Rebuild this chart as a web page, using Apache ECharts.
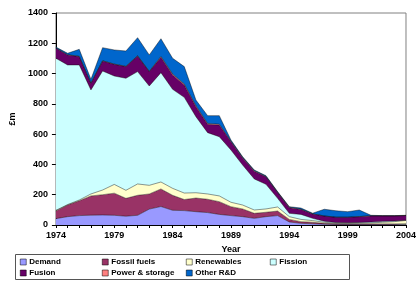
<!DOCTYPE html>
<html>
<head>
<meta charset="utf-8">
<script src="https://cdn.jsdelivr.net/npm/echarts@6/dist/echarts.min.js"></script>
<style>
    html, body { margin: 0; padding: 0; background: #fff; }
    #rd_chart { width: 419px; height: 290px; }
</style>
</head>
<body>
<div id="rd_chart"></div>
<script>
// UK energy R&D spend, £m
const years = [];
for (let y = 1974; y <= 2004; y++) years.push(String(y));

const demand       = [42, 55, 62, 65, 66, 64, 58, 64, 105, 122, 97, 95, 88, 82, 70, 62, 55, 44, 55, 62, 20, 11, 8, 5, 4, 4, 4, 4, 4, 4, 4];
const fossilFuels  = [51, 77, 98, 127, 134, 146, 118, 132, 100, 116, 99, 73, 90, 88, 84, 59, 51, 33, 29, 30, 17, 11, 10, 6, 4, 3, 3, 3, 3, 3, 4];
const renewables   = [4, 3, 5, 13, 31, 58, 53, 75, 57, 46, 46, 43, 35, 35, 38, 29, 26, 22, 22, 27, 18, 15, 11, 7, 4, 4, 5, 7, 11, 15, 22];
const fission      = [1004, 922, 892, 687, 786, 716, 740, 742, 656, 722, 654, 632, 502, 405, 391, 345, 264, 205, 163, 57, 22, 33, 15, 7, 4, 4, 5, 6, 6, 5, 2];
const fusion       = [66, 66, 55, 44, 66, 77, 77, 103, 95, 101, 95, 82, 66, 55, 77, 55, 47, 51, 49, 38, 37, 33, 29, 34, 35, 36, 38, 40, 36, 33, 30];
const powerStorage = [2, 2, 2, 2, 2, 2, 2, 2, 2, 6, 6, 6, 6, 6, 6, 3, 3, 3, 3, 3, 3, 1, 1, 1, 1, 1, 1, 1, 1, 1, 1];
const otherRD      = [6, 9, 46, 24, 86, 93, 101, 119, 108, 117, 104, 115, 38, 51, 56, 8, 5, 5, 5, 3, 4, 8, 4, 44, 42, 36, 43, 3, 1, 1, 1];

const seriesNames  = ['Demand', 'Fossil fuels', 'Renewables', 'Fission', 'Fusion', 'Power & storage', 'Other R&D'];
const seriesData   = [demand, fossilFuels, renewables, fission, fusion, powerStorage, otherRD];
const seriesColors = ['#9999FF', '#993366', '#FFFFCC', '#CCFFFF', '#660066', '#FF8080', '#0066CC'];

const FONT = 'Liberation Sans, Arial, sans-serif';

/**
 * Build one legend column (Excel lays the legend out in fixed columns)
 */
function legendColumn(names, left) {
    return {
        data: names,
        orient: 'vertical',
        left: left,
        top: 258,
        padding: 0,
        itemGap: 3,
        itemWidth: 6,
        itemHeight: 6,
        icon: 'rect',
        selectedMode: false,
        itemStyle: { borderColor: '#000', borderWidth: 0.5 },
        textStyle: { fontFamily: FONT, fontSize: 8, fontWeight: 'bold', color: '#000', lineHeight: 8, padding: [0, 0, 0, -2] }
    };
}

function initChart(dom) {
    let chart = echarts.init(dom);
    let option;

    option = {
        animation: false,
        backgroundColor: '#fff',
        grid: {
            left: 42, right: 7, top: 13, bottom: 65,
            show: true, borderColor: '#808080', borderWidth: 1
        },
        legend: [
            legendColumn(['Demand', 'Fusion'], 20),
            legendColumn(['Fossil fuels', 'Power & storage'], 102),
            legendColumn(['Renewables', 'Other R&D'], 186),
            legendColumn(['Fission'], 270)
        ],
        graphic: [{
            type: 'rect',
            shape: { x: 15.5, y: 254.5, width: 334, height: 25 },
            style: { fill: 'none', stroke: '#555', lineWidth: 1 },
            z: 0
        }],
        xAxis: {
            type: 'category',
            data: years,
            boundaryGap: false,
            name: 'Year',
            nameLocation: 'middle',
            nameGap: 20,
            nameTextStyle: { fontFamily: FONT, fontSize: 9, fontWeight: 'bold', color: '#000' },
            axisLine: { lineStyle: { color: '#000', width: 1 } },
            axisTick: { interval: 0, length: 3, lineStyle: { color: '#000' } },
            axisLabel: { interval: 4, margin: 6, fontFamily: FONT, fontSize: 9, fontWeight: 'bold', color: '#000' },
            splitLine: { show: false }
        },
        yAxis: {
            type: 'value',
            min: 0, max: 1400, interval: 200,
            name: '£m',
            nameLocation: 'middle',
            nameRotate: 90,
            nameGap: 37,
            nameTextStyle: { fontFamily: FONT, fontSize: 9, fontWeight: 'bold', color: '#000' },
            axisLine: { show: true, lineStyle: { color: '#000', width: 1 } },
            axisTick: { show: true, length: 4, lineStyle: { color: '#000' } },
            axisLabel: {
                margin: 8, fontFamily: FONT, fontSize: 9, fontWeight: 'bold', color: '#000',
                formatter: function (v) { return String(v); }
            },
            splitLine: { show: false }
        },
        series: seriesNames.map(function (name, i) {
            return {
                name: name,
                type: 'line',
                stack: 'total',
                data: seriesData[i],
                color: seriesColors[i],
                symbol: 'none',
                lineStyle: { color: '#000', width: 0.6, opacity: 0.7 },
                areaStyle: { color: seriesColors[i], opacity: 1 }
            };
        })
    };

    option && chart.setOption(option);
}

initChart(document.getElementById('rd_chart'));
</script>
</body>
</html>
